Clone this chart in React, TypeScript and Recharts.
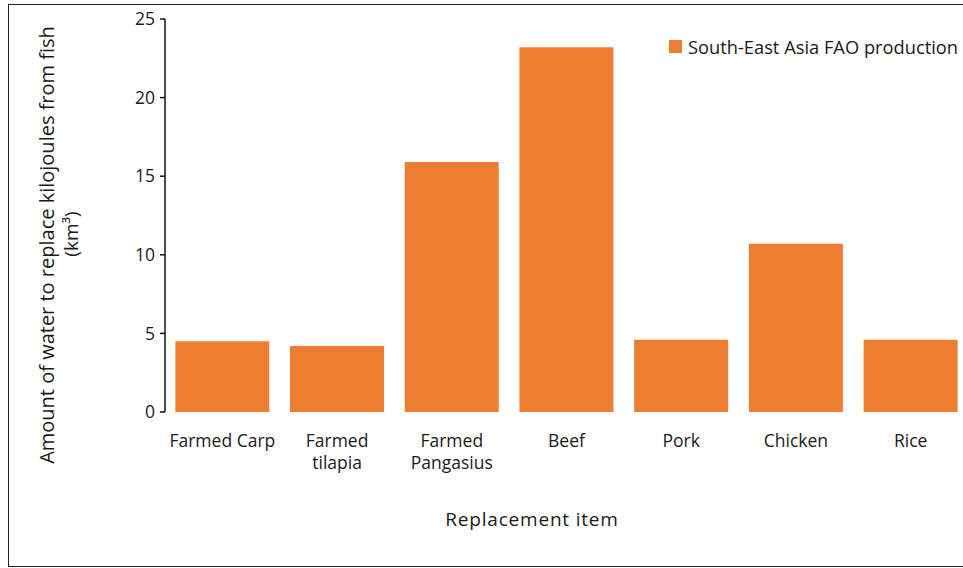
import React from "react";
import { BarChart, Bar, XAxis, YAxis, Legend } from "recharts";

const categories = ["Farmed Carp", "Farmed\ntilapia", "Farmed\nPangasius", "Beef", "Pork", "Chicken", "Rice"];
const values = [4.5, 4.2, 15.9, 23.2, 4.6, 10.7, 4.6];
const yTicks = [0, 5, 10, 15, 20, 25];
const boundaryTicks = [0, 1, 2, 3, 4, 5, 6, 7];
const seriesName = "South-East Asia FAO production";
const yTitle = "Amount of water to replace kilojoules from fish";
const yTitle2 = "(km³)";
const xTitle = "Replacement item";

const data = categories.map((c, i) => ({ name: c, value: values[i] }));

const FONT = "'Open Sans', 'Noto Sans', sans-serif";
const TEXT = "#1a1a1a";

const CatTick = (props: any) => {
  const { x, y, payload } = props;
  const lines = String(payload.value).split("\n");
  return (
    <text x={x} y={y} textAnchor="middle" fill={TEXT} fontSize={17.5} fontFamily={FONT}>
      {lines.map((l, i) => (
        <tspan key={i} x={x} dy={i === 0 ? 33 : 22}>
          {l}
        </tspan>
      ))}
    </text>
  );
};

const LegendContent = (props: any) => {
  const { payload } = props;
  return (
    <div style={{ display: "flex", flexDirection: "column", fontSize: 18.3, fontFamily: FONT, color: TEXT }}>
      {(payload || []).map((p: any, i: number) => (
        <div key={i} style={{ display: "flex", alignItems: "center", whiteSpace: "nowrap" }}>
          <span style={{ display: "inline-block", width: 13, height: 13, background: p.color, marginRight: 6 }} />
          <span>{p.value}</span>
        </div>
      ))}
    </div>
  );
};

export default function App() {
  return (
    <div style={{ position: "relative", width: 963, height: 568, overflow: "hidden", background: "#fff", fontFamily: FONT }}>
      <style>{`body{margin:0;overflow:hidden;}`}</style>
      <div
        style={{
          position: "absolute",
          left: 8,
          top: 4,
          width: 1000,
          height: 563,
          border: "1.5px solid #222",
          boxSizing: "border-box",
        }}
      />
      <div style={{ position: "absolute", left: 0, top: 0 }}>
        <BarChart
          width={1010}
          height={568}
          data={data}
          margin={{ top: 19, right: 42, bottom: 96, left: 0 }}
          barCategoryGap="9%"
        >
          <XAxis
            dataKey="name"
            xAxisId="cat"
            height={60}
            axisLine={false}
            tickLine={false}
            tickSize={0}
            interval={0}
            tick={<CatTick />}
          />
          <XAxis
            xAxisId="bound"
            type="number"
            domain={[0, 7]}
            ticks={boundaryTicks}
            height={0}
            tick={false}
            tickSize={5}
            axisLine={{ stroke: "#111", strokeWidth: 1.5 }}
            tickLine={{ stroke: "#111", strokeWidth: 1.5 }}
            allowDataOverflow
          />
          <YAxis
            width={165}
            domain={[0, 25]}
            ticks={yTicks}
            tickSize={5}
            tickMargin={5}
            interval={0}
            axisLine={{ stroke: "#111", strokeWidth: 1.5 }}
            tickLine={{ stroke: "#111", strokeWidth: 1.5 }}
            tick={{ fill: TEXT, fontSize: 17.5, fontFamily: FONT }}
          />
          <Legend
            layout="horizontal"
            align="center"
            verticalAlign="middle"
            content={<LegendContent />}
            wrapperStyle={{ position: "absolute", left: 669, top: 34, width: 320 }}
          />
          <Bar
            dataKey="value"
            xAxisId="cat"
            name={seriesName}
            fill="#ED7D31"
            isAnimationActive={false}
          />
        </BarChart>
      </div>
      <svg
        width={963}
        height={568}
        style={{ position: "absolute", left: 0, top: 0, pointerEvents: "none" }}
      >
        <text
          transform="translate(54,245) rotate(-90)"
          textAnchor="middle"
          fill={TEXT}
          fontSize={20}
          fontFamily={FONT}
        >
          {yTitle}
        </text>
        <text
          transform="translate(78,234) rotate(-90)"
          textAnchor="middle"
          fill={TEXT}
          fontSize={19}
          fontFamily={FONT}
        >
          {yTitle2}
        </text>
        <text x={532} y={526} textAnchor="middle" fill={TEXT} fontSize={19} letterSpacing={0.8} fontFamily={FONT}>
          {xTitle}
        </text>
      </svg>
    </div>
  );
}
